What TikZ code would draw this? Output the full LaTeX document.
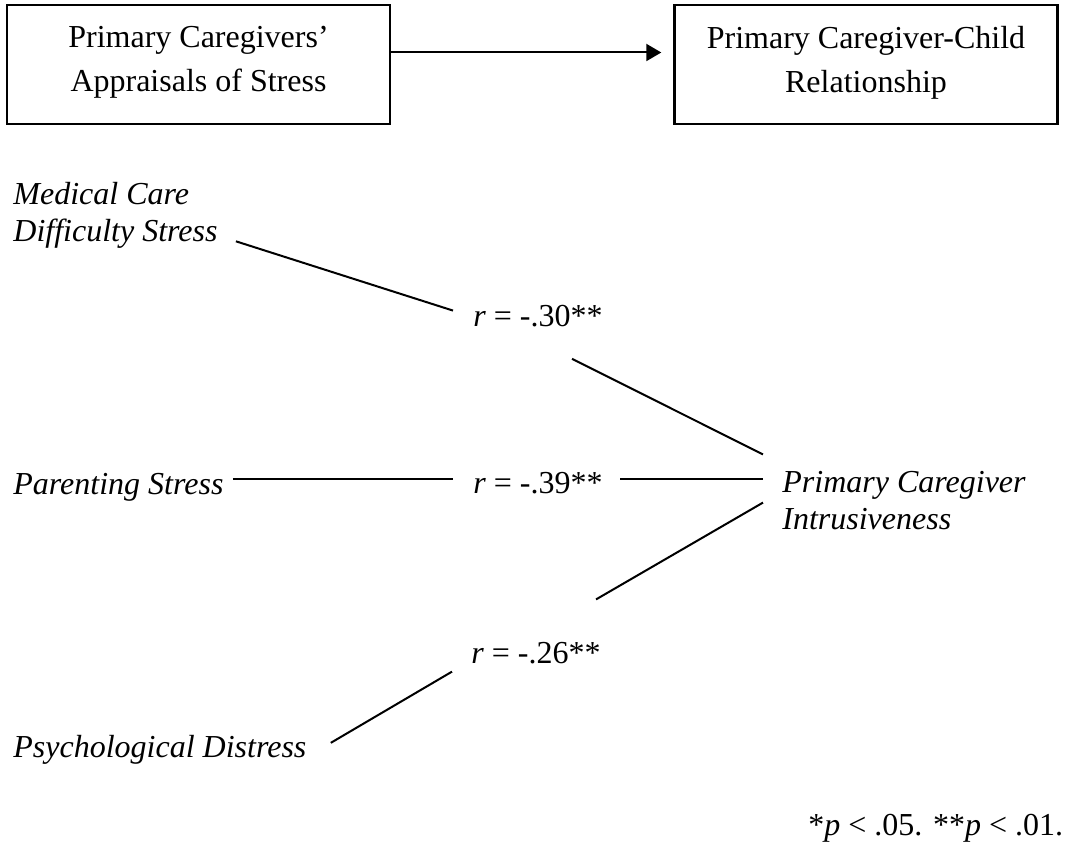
\documentclass[tikz,border=0pt]{standalone}
\usepackage{fontspec}
\setmainfont{Liberation Serif}
\usetikzlibrary{arrows.meta}

\begin{document}
\begin{tikzpicture}[x=0.5pt,y=-0.5pt,
  box/.style={shape=rectangle,draw=black,line width=1.2pt,align=center,inner sep=0pt,minimum width=191.5pt,minimum height=59.5pt,text depth=5.5pt,font=\fontsize{16pt}{22pt}\selectfont},
  lbl/.style={anchor=base west,align=left,inner sep=0pt,font=\fontsize{16pt}{18.5pt}\selectfont},
  conn/.style={draw=black,line width=1pt}]
\useasboundingbox (0,0) rectangle (1078,845);
\node[box] (0) at (198.5,64.5) {Primary Caregivers'\\Appraisals of Stress};
\node[box] (1) at (866,64.5) {Primary Caregiver-Child\\Relationship};
\node[lbl] (2) at (13,242) {\textit{Medical Care}\\\textit{Difficulty Stress}};
\node[lbl] (3) at (13,495) {\textit{Parenting Stress}};
\node[lbl] (4) at (13,757) {\textit{Psychological Distress}};
\node[lbl] (5) at (473,327) {\textit{r} = -.30**};
\node[lbl] (6) at (473,494) {\textit{r} = -.39**};
\node[lbl] (7) at (471,663) {\textit{r} = -.26**};
\node[lbl] (8) at (782,530) {\textit{Primary Caregiver}\\\textit{Intrusiveness}};
\node[lbl] (9) at (808,835) {*\textit{p} < .05. **\textit{p} < .01.};

\draw [conn,-{Triangle[length=7.5pt,width=8.5pt]}] ([yshift=6pt]0.east) -- ([xshift=-6pt,yshift=6pt]1.west);
\draw [conn] ([xshift=9pt,yshift=4pt]2.south east) -- ([xshift=-10pt,yshift=3pt]5.west);
\draw [conn] ([xshift=-15.5pt,yshift=-15.5pt]5.south east) -- ([xshift=-9.5pt,yshift=8.5pt]8.north west);
\draw [conn] ([xshift=4.5pt,yshift=4.25pt]3.east) -- ([xshift=-10pt,yshift=4.25pt]6.west |- 3.east);
\draw [conn] ([xshift=8.5pt,yshift=4.25pt]6.east |- 3.east) -- ([xshift=-9.5pt,yshift=4.25pt]8.west |- 3.east);
\draw [conn] ([xshift=-9.5pt,yshift=-0.75pt]8.west) -- ([xshift=-2.5pt,yshift=21pt]7.north east);
\draw [conn] ([xshift=-9.5pt,yshift=-9.5pt]7.west) -- ([xshift=12pt,yshift=3.25pt]4.east);
\end{tikzpicture}
\end{document}
